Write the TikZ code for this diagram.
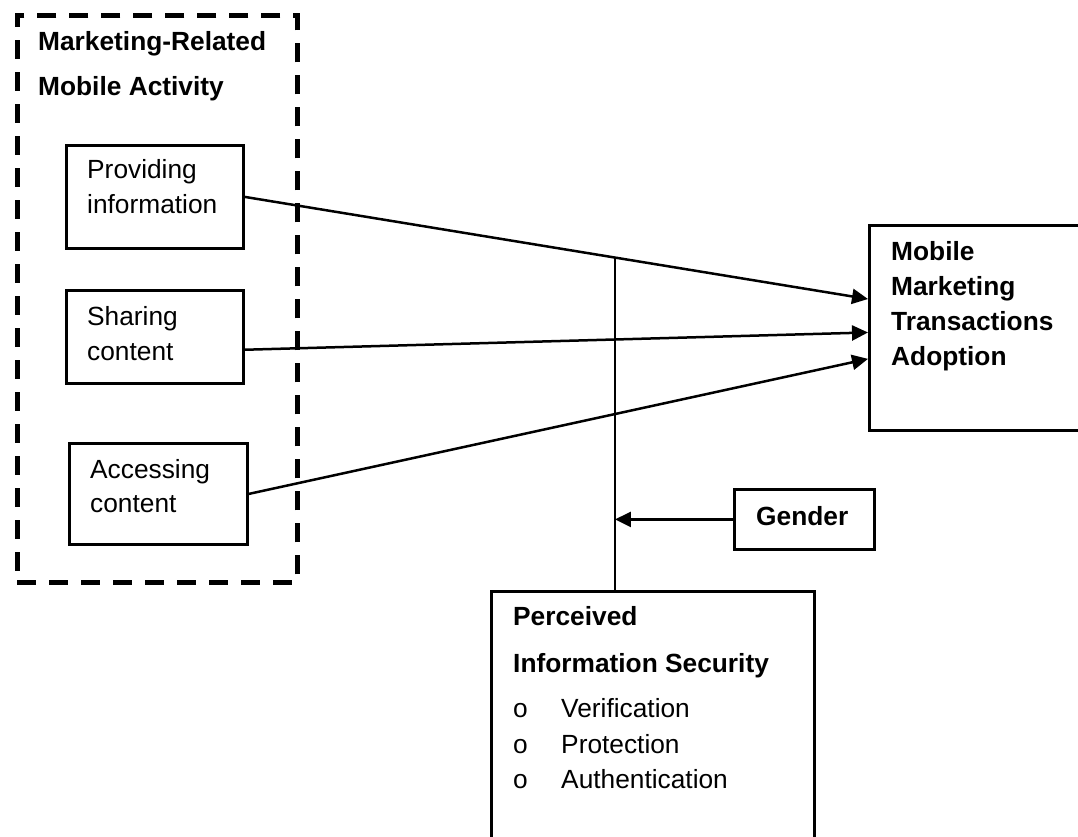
\documentclass[tikz,border=0pt]{standalone}
\usepackage{fontspec}
\setmainfont{Liberation Sans}
\usetikzlibrary{arrows.meta,calc}

\tikzset{
  box/.style={draw, line width=2.8pt, inner sep=0pt, anchor=north west},
  group/.style={draw, line width=4.5pt, dash pattern=on 19pt off 13pt, inner sep=0pt, anchor=north west},
  txt/.style={anchor=base west, inner sep=0pt, font=\fontsize{26.3pt}{30pt}\selectfont},
  btxt/.style={txt, font=\fontsize{26.3pt}{30pt}\selectfont\bfseries},
  link/.style={line width=2.5pt, -{Triangle[length=16pt,width=15pt]}},
  plain/.style={line width=2.5pt}
}

\begin{document}
\begin{tikzpicture}[x=1pt,y=-1pt]
\useasboundingbox (0,0) rectangle (1078,836);
\clip (0,0) rectangle (1078,836);

% Group of mobile activities
\node[group, minimum width=280pt, minimum height=567pt] (grp) at (15,13) {};
\node[btxt] (grpT1) at (38,50) {Marketing-Related};
\node[btxt] (grpT2) at (38,95) {Mobile Activity};

% Activity boxes
\node[box, minimum width=177pt, minimum height=103pt] (prov) at (65,144) {};
\node[txt] (provT1) at (87,178) {Providing};
\node[txt] (provT2) at (87,213) {information};

\node[box, minimum width=177pt, minimum height=93pt] (share) at (65,289) {};
\node[txt] (shareT1) at (87,325) {Sharing};
\node[txt] (shareT2) at (87,360) {content};

\node[box, minimum width=178pt, minimum height=101pt] (acc) at (68,442) {};
\node[txt] (accT1) at (90,478) {Accessing};
\node[txt] (accT2) at (90,512) {content};

% Outcome
\node[box, minimum width=240pt, minimum height=205pt] (mob) at (868,224) {};
\node[btxt] (mobT1) at (891,260) {Mobile};
\node[btxt] (mobT2) at (891,295) {Marketing};
\node[btxt] (mobT3) at (891,330) {Transactions};
\node[btxt] (mobT4) at (891,365) {Adoption};

% Moderators
\node[box, minimum width=140pt, minimum height=60pt] (gen) at (733,488) {};
\node[btxt] (genT) at (756,525) {Gender};

\node[box, minimum width=323pt, minimum height=270pt] (perc) at (490,590) {};
\node[btxt] (percT1) at (513,625) {Perceived};
\node[btxt] (percT2) at (513,672) {Information Security};
\node[txt] (b1) at (513,717) {o};
\node[txt] (i1) at (561,717) {Verification};
\node[txt] (b2) at (513,753) {o};
\node[txt] (i2) at (561,753) {Protection};
\node[txt] (b3) at (513,788) {o};
\node[txt] (i3) at (561,788) {Authentication};

% Arrow end points on the outcome box
\coordinate (m1) at ($(mob.north west)!0.361!(mob.south west)$);
\coordinate (m2) at ($(mob.north west)!0.522!(mob.south west)$);
\coordinate (m3) at ($(mob.north west)!0.649!(mob.south west)$);

% Start points on the activity boxes
\coordinate (s1) at (prov.east);
\coordinate (s2) at ($(share.north east)!0.634!(share.south east)$);
\coordinate (s3) at (acc.east);

\draw[link] (s1) -- (m1) coordinate[pos=0.594] (mid);
\draw[link] (s2) -- (m2);
\draw[link] (s3) -- (m3);

% Moderation line and gender arrow
\draw[plain] (mid) -- (mid |- perc.north);
\draw[link] (gen.west) -- (gen.west -| mid);
\end{tikzpicture}
\end{document}
